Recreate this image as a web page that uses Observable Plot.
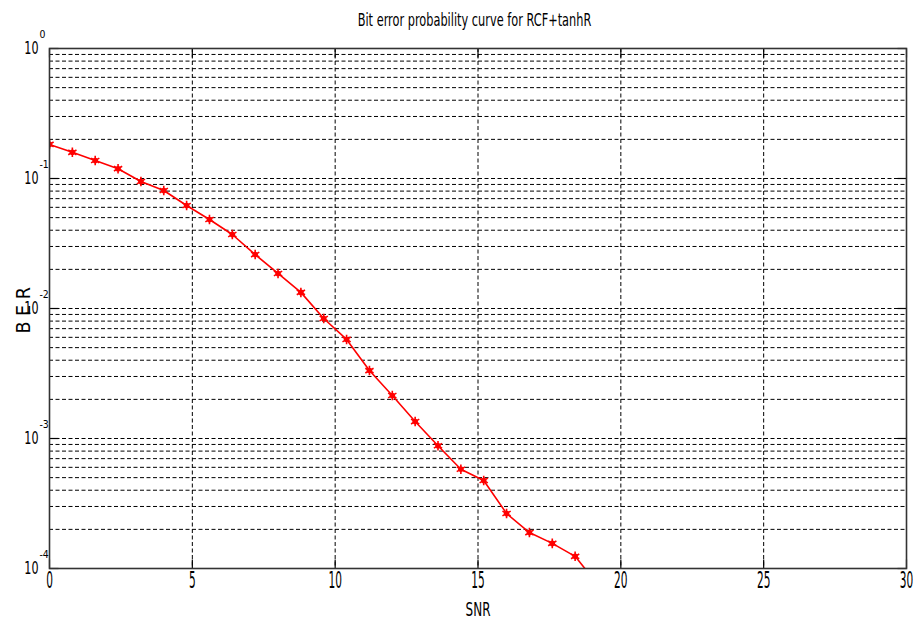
<!DOCTYPE html>
<html>
<head>
<meta charset="utf-8">
<script src="https://cdn.jsdelivr.net/npm/d3@7"></script>
<script src="https://cdn.jsdelivr.net/npm/@observablehq/plot@0.6"></script>
<style>
  html, body { margin: 0; padding: 0; background: #fff; }
  #title {
    width: 913px; height: 14px; box-sizing: border-box; padding-left: 36px;
    line-height: 40px; text-align: center; overflow: visible; white-space: nowrap;
    font-family: "DejaVu Sans", sans-serif;
    font-size: 18px; color: #000;
    transform: scaleX(0.63); transform-origin: 474.5px 50%;
    position: relative; z-index: 1;
  }
  #chart svg { display: block; }
</style>
</head>
<body>
<div id="title">Bit error probability curve for RCF+tanhR</div>
<div id="chart"></div>
<script>
// Data
const snr = [0, 0.8, 1.6, 2.4, 3.2, 4.0, 4.8, 5.6, 6.4, 7.2, 8.0, 8.8, 9.6, 10.4, 11.2, 12.0, 12.8, 13.6, 14.4, 15.2, 16.0, 16.8, 17.6, 18.4, 19.2];
const ber = [0.183, 0.159, 0.1375, 0.119, 0.0948, 0.0809, 0.062, 0.0484, 0.0371, 0.026, 0.0186, 0.0133, 0.00838, 0.00578, 0.00333, 0.00214, 0.00135, 0.00088, 0.00058, 0.000475, 0.000265, 0.000189, 0.000156, 0.000124, 0.000075];

// Axis ticks and labels
const xTicks = [0, 5, 10, 15, 20, 25, 30];
const xGrid = [5, 10, 15, 20, 25];
const yDecades = [1, 0.1, 0.01, 0.001, 0.0001];
const yExpLabels = ["0", "-1", "-2", "-3", "-4"];
const yMinorMultipliers = [1, 2, 3, 4, 5, 6, 7, 8, 9];
const yGrid = yDecades.slice(1).flatMap(d => yMinorMultipliers.map(m => m * d)).filter(v => v < 1);

const data = snr.map((s, i) => ({snr: s, ber: ber[i]}));
const font = '"DejaVu Sans", sans-serif';

const tickLen = 9;
const tickUp = {draw(c) { c.moveTo(0, 0); c.lineTo(0, -tickLen); }};
const tickDown = {draw(c) { c.moveTo(0, 0); c.lineTo(0, tickLen); }};
const tickRight = {draw(c) { c.moveTo(0, 0); c.lineTo(tickLen, 0); }};
const tickLeft = {draw(c) { c.moveTo(0, 0); c.lineTo(-tickLen, 0); }};

const chart = Plot.plot({
  width: 913,
  height: 616,
  marginTop: 34,
  marginBottom: 62,
  marginLeft: 49,
  marginRight: 7,
  style: {fontFamily: font, background: "#fff", overflow: "visible"},
  x: {domain: [0, 30], axis: null},
  y: {type: "log", domain: [1e-4, 1], axis: null},
  marks: [
    Plot.ruleY(yGrid, {stroke: "#000", strokeWidth: 1, strokeDasharray: "4,2.5"}),
    Plot.ruleX(xGrid, {stroke: "#000", strokeWidth: 1, strokeDasharray: "4,2.5"}),
    Plot.dot(xTicks, {x: d => d, y: 1e-4, symbol: tickUp, stroke: "#000", strokeWidth: 1.2, fill: "none"}),
    Plot.dot(xTicks, {x: d => d, y: 1, symbol: tickDown, stroke: "#000", strokeWidth: 1.2, fill: "none"}),
    Plot.dot(yDecades, {x: 0, y: d => d, symbol: tickRight, stroke: "#000", strokeWidth: 1.2, fill: "none"}),
    Plot.dot(yDecades, {x: 30, y: d => d, symbol: tickLeft, stroke: "#000", strokeWidth: 1.2, fill: "none"}),
    Plot.line(data, {x: "snr", y: "ber", stroke: "#ff0000", strokeWidth: 1.6, clip: true}),
    Plot.dot(data, {x: "snr", y: "ber", symbol: "asterisk", r: 4.5, stroke: "#ff0000", strokeWidth: 1.6, clip: true}),
    Plot.dot(data, {x: "snr", y: "ber", r: 2.8, fill: "#ff0000", stroke: "none", clip: true}),
    Plot.frame({stroke: "#333", strokeWidth: 1.6}),
    // x tick labels
    Plot.text(xTicks, {x: d => d, frameAnchor: "bottom", text: d => String(d), dy: 19, fontSize: 23, fill: "#000"}),
    // y tick labels "10" with superscript exponent
    Plot.text(yDecades, {y: d => d, frameAnchor: "left", text: () => "10", textAnchor: "end", dx: -11, dy: 0, fontSize: 18, fill: "#000"}),
    Plot.text(yDecades, {y: d => d, frameAnchor: "left", text: (d, i) => yExpLabels[i], textAnchor: "start", dx: -10, dy: -14, fontSize: 11, fill: "#000"}),
    // axis labels
    Plot.text(["SNR"], {frameAnchor: "bottom", text: d => d, dy: 47, fontSize: 20, fill: "#000"}),
    Plot.text(["B E R"], {frameAnchor: "left", text: d => d, dx: -26, dy: 25, rotate: -90, fontSize: 19.5, fill: "#000"})
  ]
});

// Narrow the lettering to match the condensed look of the reference
const widthScale = {"23": 0.46, "18": 0.62, "11": 0.85, "20": 0.6, "19.5": 0.9};
d3.select(chart).selectAll("text").each(function() {
  const fs = this.getAttribute("font-size") || (this.parentNode && this.parentNode.getAttribute("font-size"));
  const s = widthScale[fs];
  if (!s) return;
  let t = this.getAttribute("transform");
  if (!t) {
    const x = +this.getAttribute("x") || 0, y = +this.getAttribute("y") || 0;
    this.removeAttribute("x"); this.removeAttribute("y");
    t = `translate(${x},${y})`;
  }
  this.setAttribute("transform", `${t} scale(${s},1)`);
});
document.getElementById("chart").appendChild(chart);
</script>
</body>
</html>
